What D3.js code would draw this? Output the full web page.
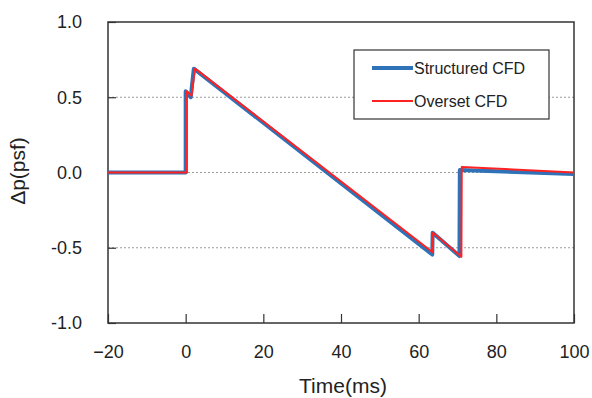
<!DOCTYPE html>
<html>
<head>
<meta charset="utf-8">
<script src="https://cdn.jsdelivr.net/npm/d3@7"></script>
<style>
  html, body { margin: 0; padding: 0; background: #fff; }
  svg { display: block; font-family: "Liberation Sans", Arial, sans-serif; }
</style>
</head>
<body>
<svg id="chart" width="592" height="398"></svg>
<script>
// Pressure pulse Δp(t) for the two CFD approaches
const timeStructured = [-20, 0.0, 0.0, 1.3, 2.1, 63.5, 63.6, 70.5, 70.6, 100];
const structured     = [0, 0, 0.54, 0.50, 0.69, -0.545, -0.40, -0.555, 0.017, -0.01];
const timeOverset    = [-20, 0.3, 0.3, 1.5, 2.4, 63.6, 63.7, 71.0, 71.1, 100];
const overset        = [0, 0, 0.54, 0.51, 0.69, -0.53, -0.40, -0.56, 0.037, 0.0];

const xTicks = [-20, 0, 20, 40, 60, 80, 100];
const yTicks = [-1.0, -0.5, 0.0, 0.5, 1.0];
const seriesNames = ["Structured CFD", "Overset CFD"];
const seriesColors = ["#2e72b8", "#ff2222"];

const svg = d3.select("#chart");
const m = { left: 108, right: 574, top: 22, bottom: 323 };

const x = d3.scaleLinear().domain([-20, 100]).range([m.left, m.right]);
const y = d3.scaleLinear().domain([-1, 1]).range([m.bottom, m.top]);

// dotted horizontal gridlines
svg.append("g").selectAll("line")
  .data([0.5, 0.0, -0.5]).join("line")
  .attr("x1", m.left).attr("x2", m.right)
  .attr("y1", d => y(d)).attr("y2", d => y(d))
  .attr("stroke", "#9a9a9a").attr("stroke-width", 1)
  .attr("stroke-dasharray", "2,2");

// x axis: ticks pointing into the plot
const xAxis = svg.append("g")
  .attr("transform", `translate(0,${m.bottom})`)
  .call(d3.axisBottom(x).tickValues(xTicks).tickSizeInner(-9).tickSizeOuter(0)
    .tickPadding(22).tickFormat(d => d < 0 ? "\u2212" + Math.abs(d) : String(d)));
xAxis.select(".domain").remove();
xAxis.selectAll("line").attr("stroke", "#333").attr("stroke-width", 1.2);
xAxis.selectAll("text").attr("font-size", 18).attr("fill", "#222")
  .attr("font-family", "'Liberation Sans', Arial, sans-serif");

// y axis (plain hyphen for negatives)
const yAxis = svg.append("g")
  .attr("transform", `translate(${m.left},0)`)
  .call(d3.axisLeft(y).tickValues(yTicks).tickSizeInner(-8).tickSizeOuter(0)
    .tickPadding(26).tickFormat(d => (d < 0 ? "-" : "") + Math.abs(d).toFixed(1)));
yAxis.select(".domain").remove();
yAxis.selectAll("line").attr("stroke", "#333").attr("stroke-width", 1.2);
yAxis.selectAll("text").attr("font-size", 18).attr("fill", "#222")
  .attr("font-family", "'Liberation Sans', Arial, sans-serif");

// plot frame
svg.append("rect")
  .attr("x", m.left).attr("y", m.top)
  .attr("width", m.right - m.left).attr("height", m.bottom - m.top)
  .attr("fill", "none").attr("stroke", "#333").attr("stroke-width", 1.5);

// series lines
const line = (ts, vs) => d3.line().x((d, i) => x(ts[i])).y(d => y(d))(vs);
svg.append("path").attr("d", line(timeStructured, structured))
  .attr("fill", "none").attr("stroke", seriesColors[0]).attr("stroke-width", 4)
  .attr("stroke-linejoin", "round");
svg.append("path").attr("d", line(timeOverset, overset))
  .attr("fill", "none").attr("stroke", seriesColors[1]).attr("stroke-width", 2)
  .attr("stroke-linejoin", "round");

// legend
const lg = svg.append("g");
lg.append("rect").attr("x", 354).attr("y", 50).attr("width", 195).attr("height", 69)
  .attr("fill", "#fff").attr("stroke", "#333").attr("stroke-width", 1.2);
const rows = [{ y: 68, w: 4 }, { y: 101, w: 2 }];
rows.forEach((r, i) => {
  lg.append("line").attr("x1", 372).attr("x2", 413).attr("y1", r.y).attr("y2", r.y)
    .attr("stroke", seriesColors[i]).attr("stroke-width", r.w);
  lg.append("text").attr("x", 414).attr("y", r.y + 6).attr("font-size", 16)
    .attr("fill", "#222").text(seriesNames[i]);
});

// axis titles
svg.append("text").attr("x", 343).attr("y", 393)
  .attr("text-anchor", "middle").attr("font-size", 21).attr("fill", "#222")
  .text("Time(ms)");
svg.append("text").attr("transform", `translate(25,171) rotate(-90)`)
  .attr("text-anchor", "middle").attr("font-size", 21).attr("fill", "#222")
  .text("Δp(psf)");
</script>
</body>
</html>
